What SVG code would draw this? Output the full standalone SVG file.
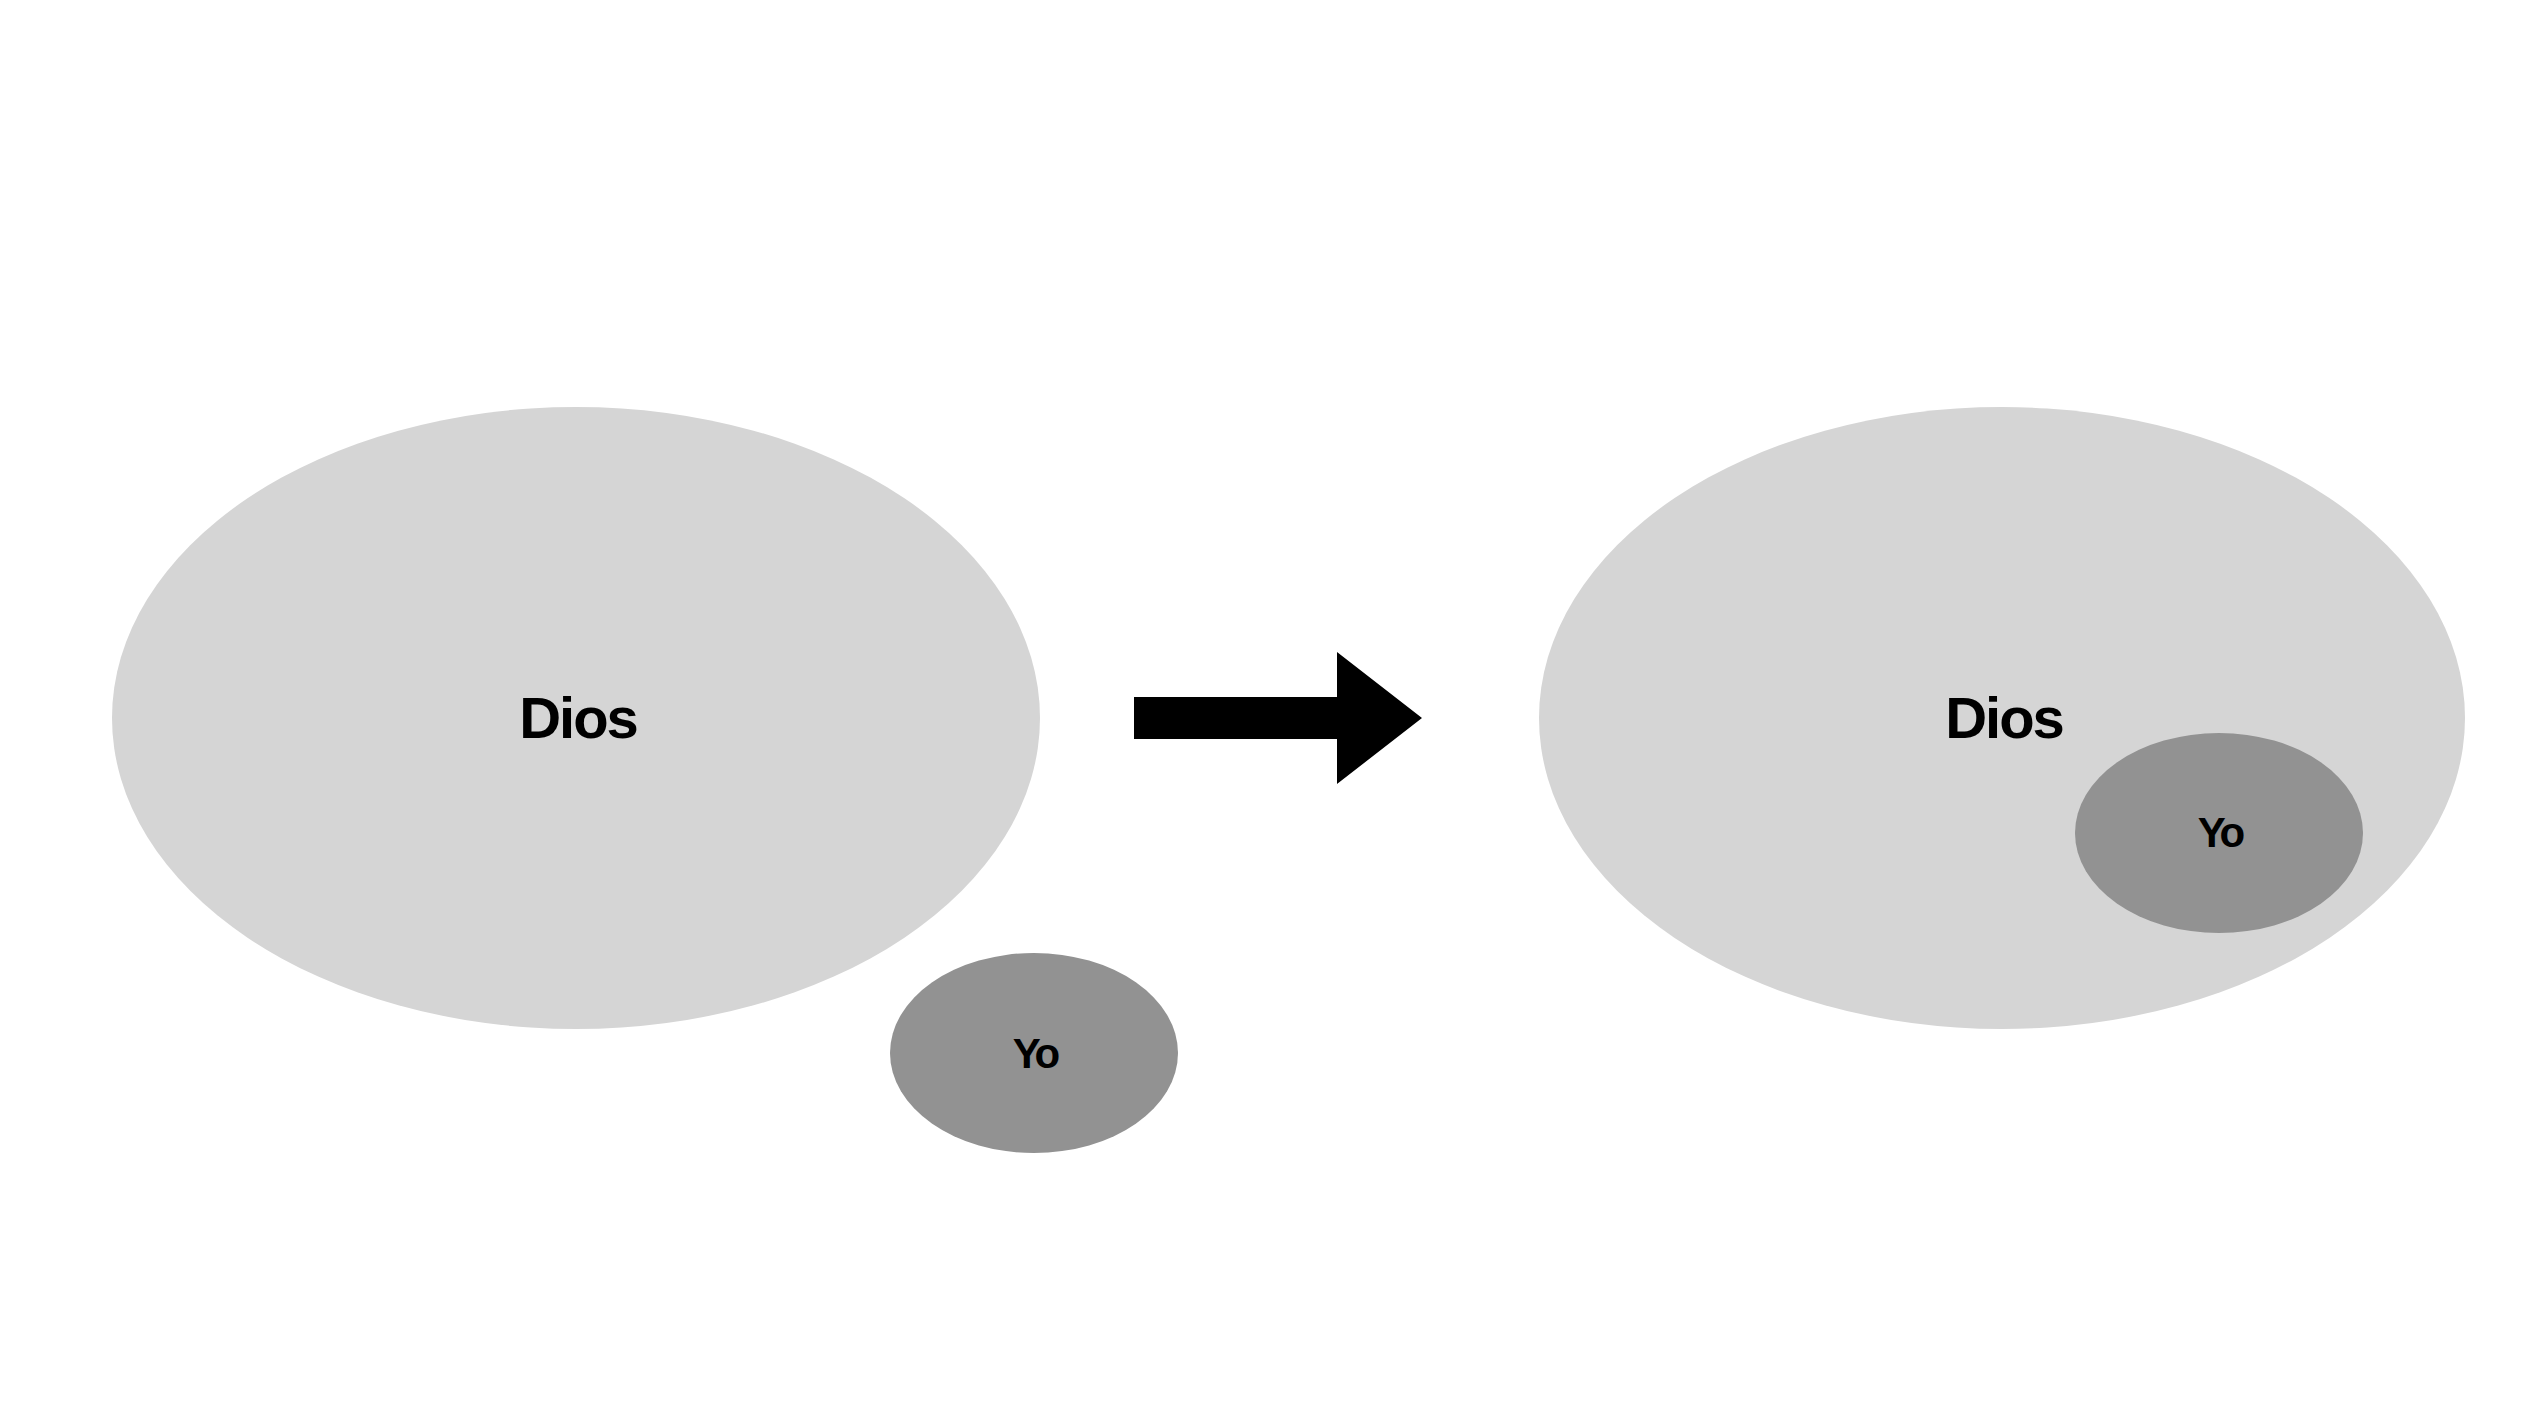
<svg xmlns="http://www.w3.org/2000/svg" width="2540" height="1412" viewBox="0 0 2540 1412">
<style>
.god{fill:#d5d5d5}
.me{fill:#929292}
.t{font-family:"Liberation Sans",Arial,sans-serif;font-weight:bold;fill:#000;text-anchor:middle}
.big{font-size:58px;letter-spacing:-2px}
.small{font-size:42px;letter-spacing:-3px}
</style>
<rect width="2540" height="1412" fill="#fff"/>
<g id="dios-left"><ellipse class="god" cx="576" cy="718" rx="464" ry="311"/><text class="t big" x="578" y="738">Dios</text></g>
<g id="yo-left"><ellipse class="me" cx="1034" cy="1053" rx="144" ry="100"/><text class="t small" x="1035" y="1068">Yo</text></g>
<g id="dios-right"><ellipse class="god" cx="2002" cy="718" rx="463" ry="311"/><text class="t big" x="2004" y="738">Dios</text></g>
<g id="yo-right"><ellipse class="me" cx="2219" cy="833" rx="144" ry="100"/><text class="t small" x="2220" y="847">Yo</text></g>
<g id="connectors"><polygon fill="#000" points="1134,697 1337,697 1337,652 1422,718 1337,784 1337,739 1134,739"/></g>
</svg>
